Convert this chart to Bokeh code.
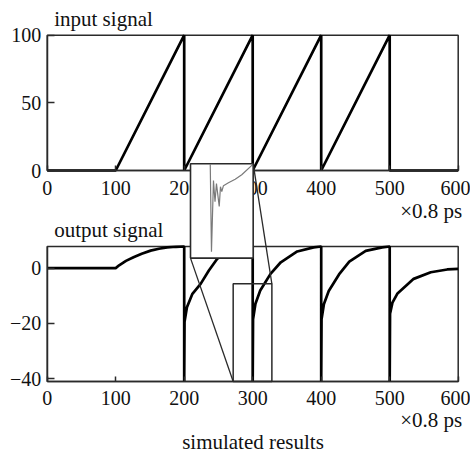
from bokeh.plotting import figure
from bokeh.models import Range1d, LinearAxis, FixedTicker, Label
from bokeh.embed import file_html
from bokeh.resources import INLINE

# ---------------- data ----------------
x_ticks = [0, 100, 200, 300, 400, 500, 600]
in_ticks = [0, 50, 100]
out_ticks = [-40, -20, 0]
out_tick_labels = {-40: "\u221240", -20: "\u221220", 0: "0"}

# input signal (sawtooth)
in_t = [0, 100, 200, 200, 300, 300, 400, 400, 500, 500, 600]
in_v = [0, 0, 100, 0, 100, 0, 100, 0, 100, 0, 0]

# output signal
out_t = [0, 100, 105, 115, 126, 138, 151, 163, 175, 188, 200,
         200, 200.5, 204, 212, 224, 236, 248, 262, 276, 290, 300,
         300, 300.5, 304, 311, 326, 341, 365, 389, 400,
         400, 400.5, 404, 411, 426, 441, 465, 489, 500,
         500, 500.5, 504, 511, 535, 560, 584, 600]
out_v = [0, 0, 1.0, 2.6, 3.9, 5.2, 6.3, 7.0, 7.5, 7.7, 7.8,
         -41, -19.4, -14.2, -9.3, -5.7, -0.9, 3.3, 5.6, 6.9, 7.6, 7.8,
         -41, -18.5, -12.9, -8.1, -2.1, 2.1, 6.0, 7.5, 7.8,
         -41, -18.5, -13.0, -8.3, -2.3, 2.3, 6.2, 7.5, 7.8,
         -41, -16.5, -12.5, -9.3, -3.9, -1.5, -0.5, -0.3]

# zoomed detail shown in the inset (in output-signal units)
zoom_t = [289.3, 290.4, 292.2, 293.6, 294.9, 297.4, 298.5, 299.7, 301.2,
          305.7, 311.8, 317.7, 327.5]
zoom_v = [-5.8, -38.6, -12.0, -19.9, -13.1, -21.7, -14.3, -16.1, -13.9,
          -12.8, -11.5, -9.8, -6.0]

# axis extents
X_LO, X_HI = 0, 600
IN_LO, IN_HI = 0, 100
OUT_LO, OUT_HI = -41, 7.8

# zoom region (output units) and inset box (output units)
Z_L, Z_R, Z_B, Z_T = 271.5, 328, -41, -5.7
I_L, I_R, I_B, I_T = 209.2, 300.7, 3.6, 37.7

# ---------------- layout (canvas pixels) ----------------
W, H = 470, 452
PX_L, PX_R = 46.7, 457.7          # x = 0 and x = 600
TOP_P0, TOP_P100 = 170.0, 34.7    # input 0 and 100
BOT_PLO, BOT_PHI = 381.0, 246.0   # output -41 and 7.8


def xrange_for(lo, hi, plo, phi, total):
    k = (hi - lo) / (phi - plo)
    return lo - plo * k, lo + (total - plo) * k


def yrange_for(lo, hi, plo, phi, total):
    k = (hi - lo) / (plo - phi)
    return lo - (total - plo) * k, hi + phi * k


xs, xe = xrange_for(X_LO, X_HI, PX_L, PX_R, W)
ys, ye = yrange_for(OUT_LO, OUT_HI, BOT_PLO, BOT_PHI, H)
ts, te = yrange_for(IN_LO, IN_HI, TOP_P0, TOP_P100, H)

kx = (Z_R - Z_L) / (I_R - I_L)
ky = (Z_T - Z_B) / (I_T - I_B)
zxs, zxe = Z_L + (xs - I_L) * kx, Z_L + (xe - I_L) * kx
zys, zye = Z_B + (ys - I_B) * ky, Z_B + (ye - I_B) * ky

# output-axis value of the input panel's top edge (for its title)
k_out = (OUT_HI - OUT_LO) / (BOT_PLO - BOT_PHI)
IN_TOP_AS_OUT = OUT_HI + (BOT_PHI - TOP_P100) * k_out

FONT = "Liberation Serif"
INK = "#111111"
FRAME = "#2a2a2a"

p = figure(width=W, height=H, x_range=Range1d(xs, xe), y_range=Range1d(ys, ye),
           x_axis_type=None, y_axis_type=None, output_backend="svg",
           toolbar_location=None, min_border=0, outline_line_color=None,
           background_fill_color="white", border_fill_color="white")
p.extra_y_ranges = {"top": Range1d(ts, te), "zy": Range1d(zys, zye)}
p.extra_x_ranges = {"zx": Range1d(zxs, zxe)}


def make_axis(ticks, fixed, bounds, **kw):
    ax = LinearAxis(ticker=FixedTicker(ticks=ticks, minor_ticks=[]),
                    fixed_location=fixed, bounds=bounds, **kw)
    ax.major_tick_in = 6
    ax.major_tick_out = 0
    ax.minor_tick_in = 0
    ax.minor_tick_out = 0
    ax.axis_line_width = 1.5
    ax.axis_line_color = FRAME
    ax.major_tick_line_width = 1.5
    ax.major_tick_line_color = FRAME
    ax.major_label_text_font = FONT
    ax.major_label_text_font_size = "20px"
    ax.major_label_text_color = INK
    ax.major_label_standoff = 6
    return ax


# bottom plot axes
bx = make_axis(x_ticks, OUT_LO, (X_LO, X_HI), axis_label="simulated results")
bx.major_tick_in = 5
bx.major_label_standoff = 9
bx.axis_label_text_font = FONT
bx.axis_label_text_font_size = "21px"
bx.axis_label_text_font_style = "normal"
bx.axis_label_text_color = INK
bx.axis_label_standoff = 22
p.add_layout(bx, "below")

by = make_axis(out_ticks, X_LO, (OUT_LO, OUT_HI))
by.major_tick_in = 7
by.major_label_overrides = out_tick_labels
p.add_layout(by, "left")

# top plot axes
tx = make_axis(x_ticks, IN_LO, (X_LO, X_HI), y_range_name="top")
tx.major_tick_in = 5
tx.major_label_standoff = 10
p.add_layout(tx, "below")

ty = make_axis(in_ticks, X_LO, (IN_LO, IN_HI), y_range_name="top")
ty.major_tick_in = 7
p.add_layout(ty, "left")

# frames
p.quad(left=[X_LO], right=[X_HI], bottom=[IN_LO], top=[IN_HI], y_range_name="top",
       fill_color=None, line_color=FRAME, line_width=1.5)
p.quad(left=[X_LO], right=[X_HI], bottom=[OUT_LO], top=[OUT_HI],
       fill_color=None, line_color=FRAME, line_width=1.5)

# signals
p.line(in_t, in_v, y_range_name="top", line_color="black", line_width=2.7)
p.line(out_t, out_v, line_color="black", line_width=2.7)

# zoom rectangle in bottom plot
p.quad(left=[Z_L], right=[Z_R], bottom=[Z_B], top=[Z_T],
       fill_color=None, line_color=FRAME, line_width=1.5)

# inset box with zoomed waveform
p.quad(left=[I_L], right=[I_R], bottom=[I_B], top=[I_T], fill_color="white",
       line_color=FRAME, line_width=1.6, level="overlay")
p.line(zoom_t, zoom_v, x_range_name="zx", y_range_name="zy",
       line_color="#7a7a7a", line_width=1.2, level="overlay")
p.segment(x0=[I_L, I_R], y0=[I_B, I_T], x1=[Z_L, Z_R], y1=[Z_B, Z_T],
          line_color=FRAME, line_width=1.3, level="overlay")

# titles and unit labels
p.add_layout(Label(x=X_LO, y=IN_TOP_AS_OUT, x_offset=7, y_offset=16,
                   text="input signal", text_font=FONT, text_font_size="21px",
                   text_color=INK, text_align="left", text_baseline="alphabetic"))
p.add_layout(Label(x=X_LO, y=OUT_HI, x_offset=7, y_offset=17,
                   text="output signal", text_font=FONT, text_font_size="21px",
                   text_color=INK, text_align="left", text_baseline="alphabetic"))
p.add_layout(Label(x=X_HI, y=IN_LO, y_range_name="top", x_offset=4, y_offset=-40,
                   text="\u00d70.8 ps", text_font=FONT, text_font_size="21px",
                   text_color=INK, text_align="right", text_baseline="alphabetic"))
p.add_layout(Label(x=X_HI, y=OUT_LO, x_offset=4, y_offset=-38,
                   text="\u00d70.8 ps", text_font=FONT, text_font_size="21px",
                   text_color=INK, text_align="right", text_baseline="alphabetic"))

open("out.html", "w").write(file_html(p, INLINE))
